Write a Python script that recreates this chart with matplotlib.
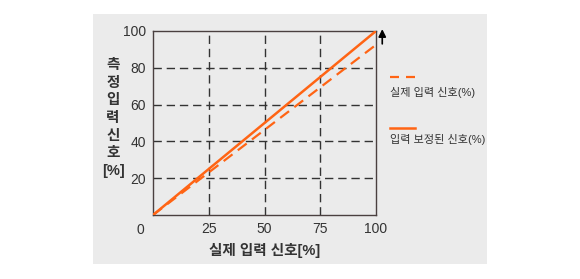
import matplotlib.pyplot as plt
from matplotlib.patches import Rectangle
from matplotlib.lines import Line2D

plt.rcParams["font.family"] = ["Liberation Sans", "Noto Sans CJK KR", "DejaVu Sans"]

# data
actual_x = [0, 100]
actual_y = [0, 92.5]
corrected_x = [0, 100]
corrected_y = [0, 100]
x_ticks = [25, 50, 75, 100]
y_ticks = [20, 40, 60, 80, 100]
xlabel = "실제 입력 신호[%]"
ylabel = "측\n정\n입\n력\n신\n호\n[%]"
legend_labels = ["실제 입력 신호(%)", "입력 보정된 신호(%)"]

ORANGE = "#ff6414"
TEXT = "#333333"
GRAY_BG = "#ebebeb"

fig = plt.figure(figsize=(5.8, 2.79), dpi=100)
fig.patch.set_facecolor("white")
fig.patches.append(Rectangle((0.160, 0.054), 0.680, 0.896, transform=fig.transFigure,
                             facecolor=GRAY_BG, edgecolor="none", zorder=-5))

ax = fig.add_axes([0.2638, 0.2294, 0.3845, 0.6595])
ax.set_zorder(2)
ax.set_facecolor(GRAY_BG)
ax.set_xlim(0, 100)
ax.set_ylim(0, 100)

for v in x_ticks[:-1]:
    ax.axvline(v, color=TEXT, linewidth=1.0, dashes=(6, 3.5), zorder=1)
for v in y_ticks[:-1]:
    ax.axhline(v, color=TEXT, linewidth=1.0, dashes=(6, 3.5), zorder=1)

ax.plot(actual_x, actual_y, color=ORANGE, linewidth=1.6, dashes=(5, 3), zorder=3)
ax.plot(corrected_x, corrected_y, color=ORANGE, linewidth=1.8, zorder=4)

ax.set_xticks(x_ticks)
ax.set_yticks(y_ticks)
ax.tick_params(length=0, pad=5, labelsize=10, colors=TEXT)
for s in ax.spines.values():
    s.set_color("#4a4040")
    s.set_linewidth(1.0)

ax.text(-0.04, -0.045, "0", transform=ax.transAxes, ha="right", va="top",
        fontsize=10, color=TEXT)

ax.set_xlabel(xlabel, fontsize=10.5, fontweight="bold", color=TEXT, labelpad=5)
fig.text(0.195, 0.577, ylabel, ha="center", va="center", fontsize=10.5,
         fontweight="bold", color=TEXT, linespacing=1.32)

# arrow at upper right
ax.annotate("", xy=(102.8, 101), xytext=(102.8, 93), xycoords="data",
            annotation_clip=False,
            arrowprops=dict(arrowstyle="-|>", color="black", lw=1.2,
                            mutation_scale=11, shrinkA=0, shrinkB=0))

# legend drawn by hand
fig.lines.append(Line2D([0.673, 0.716], [1 - 76.7 / 279] * 2, transform=fig.transFigure,
                        color=ORANGE, linewidth=1.6, dashes=(4.05, 3.15)))
fig.text(0.672, 1 - 92 / 279, legend_labels[0], ha="left", va="center",
         fontsize=8, color=TEXT)
fig.lines.append(Line2D([0.673, 0.716], [1 - 128 / 279] * 2, transform=fig.transFigure,
                        color=ORANGE, linewidth=1.8))
fig.text(0.672, 1 - 139.5 / 279, legend_labels[1], ha="left", va="center",
         fontsize=8, color=TEXT)

fig.savefig("out.png", dpi=100)
